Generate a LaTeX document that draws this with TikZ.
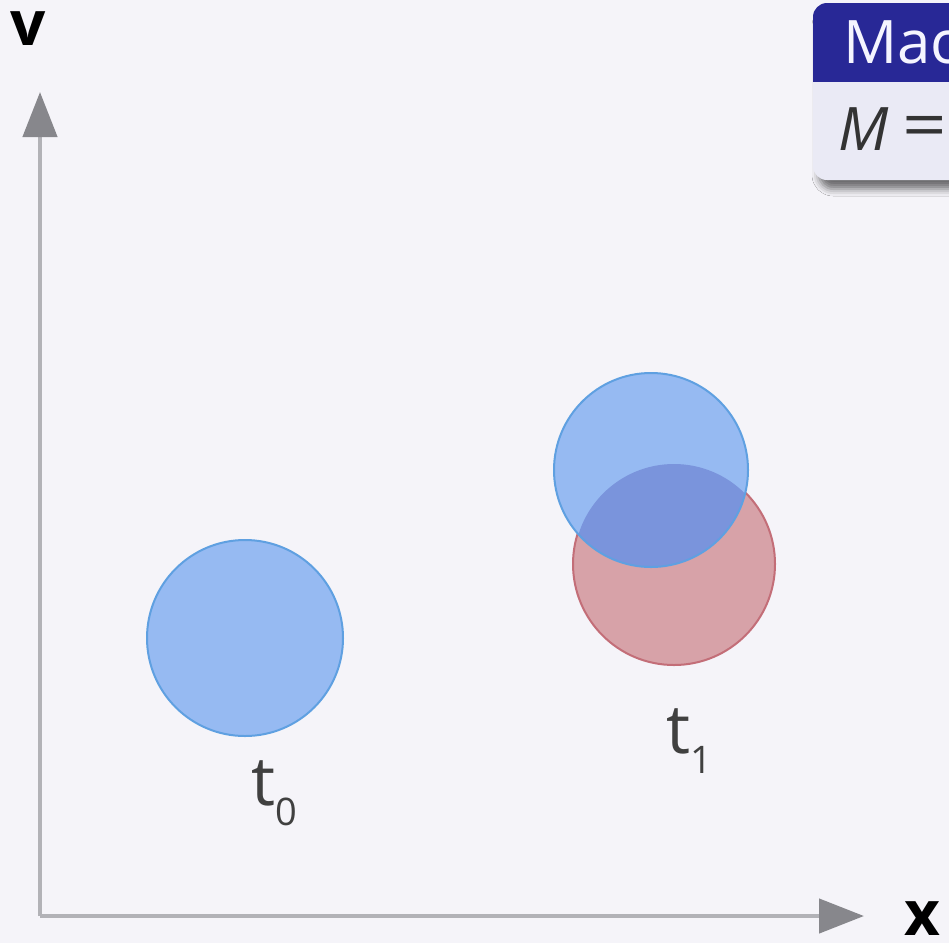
\documentclass[tikz,border=0pt]{standalone}
\usepackage{fontspec}
\setmainfont{Open Sans}
\usetikzlibrary{arrows.meta,shadows.blur}
\definecolor{bg}{RGB}{245,244,249}
\definecolor{axline}{RGB}{178,178,183}
\definecolor{axhead}{RGB}{135,135,140}
\definecolor{bluefill}{RGB}{150,186,242}
\definecolor{blueedge}{RGB}{95,160,225}
\definecolor{redfill}{RGB}{215,162,168}
\definecolor{rededge}{RGB}{195,110,120}
\definecolor{overlap}{RGB}{122,148,220}
\definecolor{boxtitle}{RGB}{40,40,150}
\definecolor{boxbody}{RGB}{234,234,245}
\tikzset{
  axis/.style={draw=axline, line width=4.5pt,
    -{Triangle[length=45pt,width=34pt,fill=axhead,color=axhead]}},
  disc/.style={circle, inner sep=0pt, line width=2pt},
  axlabel/.style={anchor=base west, inner sep=0pt, font=\fontsize{62}{62}\selectfont\bfseries},
  tlabel/.style={anchor=base west, inner sep=0pt, text=black!75, font=\fontsize{68}{68}\selectfont},
}
\newcommand{\subsc}[1]{\raisebox{-20pt}{\fontsize{38}{38}\selectfont #1}}
\begin{document}
\begin{tikzpicture}[x=1pt,y=-1pt]
\useasboundingbox (0,0) rectangle (949,943);
\fill[bg] (0,0) rectangle (949,943);
\clip (0,0) rectangle (949,943);

% block (cut off at right edge)
\path[fill=boxbody, rounded corners=14pt,
  blur shadow={shadow xshift=6pt, shadow yshift=-9pt, shadow blur radius=7pt, shadow opacity=55}]
  (813,3) rectangle (1000,180);
\begin{scope}
  \clip[rounded corners=14pt] (813,3) rectangle (1000,180);
  \fill[boxtitle] (813,3) rectangle (1000,82);
\end{scope}
\node[anchor=base west, inner sep=0pt, text=white!96!blue, font=\fontsize{60}{60}\selectfont] (title) at (843,63) {Mac};
\node[anchor=base west, inner sep=0pt, text=black!80, font=\fontsize{60}{60}\selectfont] (meq) at (838,150) {\itshape M\upshape\hspace{14pt}\raisebox{2pt}{\scalebox{1.3}[1.1]{=}}};

% axes
\coordinate (O) at (40,916);
\coordinate (ytip) at (40,92);
\coordinate (xtip) at (864,916);
\draw[axis] (O) -- (ytip);
\draw[axis] (O) -- (xtip);
\node[axlabel] (vlab) at (10,45) {v};
\node[axlabel] (xlab) at (904,935) {x};

% t0 disc
\node[disc, minimum size=196pt, fill=bluefill, draw=blueedge] (c0) at (245,638) {};
% t1 discs
\node[disc, minimum size=202pt, fill=redfill, draw=rededge] (c1r) at (674,564) {};
\node[disc, minimum size=194pt, fill=bluefill] (c1b) at (651,470) {};
\begin{scope}
  \clip (674,564) circle (100pt);
  \fill[overlap] (651,470) circle (97pt);
\end{scope}
\node[disc, minimum size=194pt, draw=blueedge] (c1bedge) at (651,470) {};

% labels
\node[tlabel] (t0) at (251,805) {t\subsc{0}};
\node[tlabel] (t1) at (666,753) {t\subsc{1}};
\end{tikzpicture}
\end{document}
